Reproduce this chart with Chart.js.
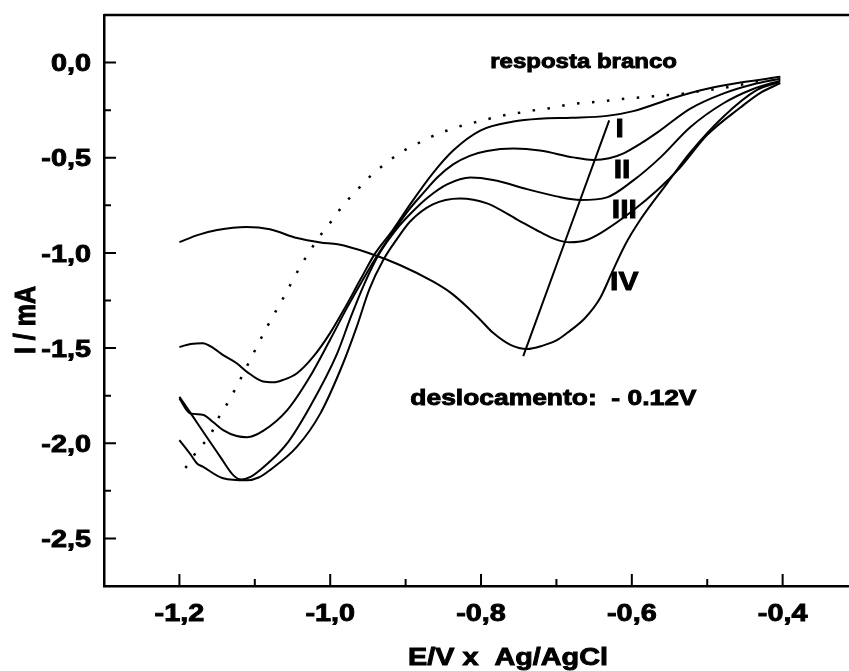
<!DOCTYPE html>
<html lang="pt">
<head>
<meta charset="UTF-8">
<title>Voltametria - deslocamento do pico</title>
<script src="https://cdn.jsdelivr.net/npm/chart.js"></script>
<style>
    html, body { margin: 0; padding: 0; background: #fff; }
    #wrap { width: 849px; height: 671px; }
</style>
</head>
<body>
<div id="wrap"><canvas id="cv" width="849" height="671"></canvas></div>
<script>
// eixos
const xMin = -1.3, xMax = -0.312;
const yMin = -2.75, yMax = 0.25;
const xTicks = [-1.2, -1.0, -0.8, -0.6, -0.4];
const xMinor = [-1.1, -0.9, -0.7, -0.5];
const yTicks = [0.0, -0.5, -1.0, -1.5, -2.0, -2.5];
const yMinor = [-0.25, -0.75, -1.25, -1.75, -2.25];

// resposta branco (pontilhada)
const eBranco = [-1.192, -1.175, -1.159, -1.149, -1.137, -1.126, -1.105, -1.084, -1.062, -1.040,
    -1.014, -0.999, -0.984, -0.966, -0.947, -0.926, -0.906, -0.885, -0.865, -0.845,
    -0.825, -0.804, -0.784, -0.764, -0.745, -0.724, -0.703, -0.684, -0.664, -0.644,
    -0.623, -0.603, -0.582, -0.561, -0.541, -0.520, -0.490, -0.460, -0.430, -0.400];
const iBranco = [-2.130, -2.032, -1.957, -1.873, -1.795, -1.716, -1.553, -1.390, -1.235, -1.074,
    -0.913, -0.836, -0.755, -0.677, -0.598, -0.528, -0.471, -0.427, -0.388, -0.357,
    -0.331, -0.310, -0.290, -0.273, -0.261, -0.247, -0.236, -0.220, -0.212, -0.205,
    -0.196, -0.187, -0.182, -0.173, -0.168, -0.156, -0.140, -0.120, -0.095, -0.070];

// curva I
const e1 = [-1.200, -1.185, -1.169, -1.155, -1.142, -1.124, -1.110, -1.089, -1.075, -1.063,
    -1.044, -1.023, -1.000, -0.980, -0.960, -0.940, -0.917, -0.894, -0.864, -0.837,
    -0.801, -0.757, -0.722, -0.680, -0.633, -0.598, -0.545, -0.500, -0.456, -0.403];
const i1 = [-1.494, -1.478, -1.474, -1.500, -1.537, -1.580, -1.626, -1.676, -1.680, -1.668,
    -1.632, -1.548, -1.420, -1.285, -1.140, -1.000, -0.880, -0.745, -0.582, -0.462,
    -0.357, -0.310, -0.295, -0.290, -0.280, -0.255, -0.186, -0.138, -0.105, -0.075];

// curva II
const e2 = [-1.200, -1.186, -1.169, -1.155, -1.142, -1.124, -1.110, -1.089, -1.057, -1.027,
    -1.000, -0.978, -0.958, -0.937, -0.915, -0.896, -0.877, -0.857, -0.837, -0.815,
    -0.792, -0.757, -0.722, -0.678, -0.651, -0.630, -0.611, -0.588, -0.566, -0.523,
    -0.479, -0.440, -0.403];
const i2 = [-1.765, -1.843, -1.850, -1.890, -1.931, -1.962, -1.968, -1.935, -1.826, -1.651,
    -1.455, -1.290, -1.150, -1.010, -0.880, -0.775, -0.687, -0.600, -0.535, -0.490,
    -0.465, -0.452, -0.462, -0.498, -0.512, -0.503, -0.477, -0.425, -0.367, -0.243,
    -0.163, -0.115, -0.085];

// curva III
const e3 = [-1.200, -1.182, -1.164, -1.146, -1.128, -1.118, -1.105, -1.089, -1.058, -1.027,
    -0.991, -0.973, -0.955, -0.935, -0.912, -0.890, -0.871, -0.845, -0.814, -0.784,
    -0.739, -0.700, -0.668, -0.633, -0.598, -0.562, -0.523, -0.479, -0.440, -0.403];
const i3 = [-1.756, -1.860, -1.966, -2.070, -2.170, -2.190, -2.175, -2.128, -2.005, -1.809,
    -1.530, -1.340, -1.165, -1.005, -0.875, -0.780, -0.710, -0.640, -0.604, -0.617,
    -0.665, -0.703, -0.722, -0.708, -0.619, -0.498, -0.341, -0.215, -0.140, -0.095];

// quarta curva com pico
const e4 = [-1.200, -1.185, -1.177, -1.169, -1.142, -1.111, -1.095, -1.080, -1.044, -1.013,
    -0.983, -0.965, -0.948, -0.930, -0.912, -0.894, -0.864, -0.828, -0.792, -0.752,
    -0.722, -0.700, -0.682, -0.662, -0.642, -0.598, -0.566, -0.536, -0.500, -0.456,
    -0.430, -0.403];
const i4 = [-1.983, -2.060, -2.105, -2.123, -2.184, -2.195, -2.180, -2.141, -2.018, -1.843,
    -1.581, -1.390, -1.190, -1.040, -0.930, -0.835, -0.745, -0.714, -0.740, -0.825,
    -0.890, -0.930, -0.944, -0.935, -0.897, -0.776, -0.670, -0.551, -0.380, -0.236,
    -0.160, -0.108];

// curva IV
const e5 = [-1.200, -1.175, -1.150, -1.111, -1.080, -1.044, -1.013, -0.990, -0.951, -0.907,
    -0.864, -0.840, -0.818, -0.800, -0.784, -0.761, -0.739, -0.718, -0.700, -0.686,
    -0.662, -0.642, -0.626, -0.609, -0.589, -0.553, -0.523, -0.479, -0.434, -0.404];
const i5 = [-0.943, -0.905, -0.880, -0.864, -0.876, -0.922, -0.945, -0.955, -0.998, -1.065,
    -1.150, -1.210, -1.285, -1.355, -1.420, -1.483, -1.505, -1.487, -1.460, -1.421,
    -1.342, -1.237, -1.100, -0.958, -0.827, -0.633, -0.475, -0.286, -0.144, -0.102];

// reta do deslocamento
const eDesl = [-0.744, -0.630];
const iDesl = [-1.542, -0.304];

// textos
const romanos = ['I', 'II', 'III', 'IV'];
const romanosE = [-0.616, -0.613, -0.610, -0.610];
const romanosI = [-0.391, -0.606, -0.817, -1.195];
const notas = ['resposta branco', 'deslocamento:  - 0.12V'];
const notasE = [-0.664, -0.704];
const notasI = [-0.028, -1.799];

const FONT = '"Liberation Sans", Arial, sans-serif';
const SX = 1.2; // a figura original esta esticada na horizontal

function pts(xs, ys) {
    return xs.map((v, k) => ({ x: v, y: ys[k] }));
}
function fmt(v) {
    return v.toFixed(1).replace('.', ',');
}
function texto(ctx, t, x, y, size, align) {
    ctx.save();
    ctx.font = 'bold ' + size + 'px ' + FONT;
    ctx.textAlign = align;
    ctx.textBaseline = 'alphabetic';
    ctx.lineWidth = 0.9;
    ctx.translate(x, y);
    ctx.scale(SX, 1);
    ctx.fillText(t, 0, 0);
    ctx.strokeText(t, 0, 0);
    ctx.restore();
}

const moldura = {
    id: 'moldura',
    afterDraw(chart) {
        const { ctx, chartArea: a, scales: { x, y } } = chart;
        ctx.save();
        ctx.strokeStyle = '#000';
        ctx.fillStyle = '#000';
        // linha de cima
        ctx.lineWidth = 2.5;
        ctx.beginPath();
        ctx.moveTo(a.left, a.top);
        ctx.lineTo(a.right, a.top);
        ctx.stroke();
        // marcas para dentro
        ctx.lineWidth = 2;
        ctx.beginPath();
        xTicks.forEach(v => { const p = x.getPixelForValue(v); ctx.moveTo(p, a.bottom); ctx.lineTo(p, a.bottom - 12); });
        xMinor.forEach(v => { const p = x.getPixelForValue(v); ctx.moveTo(p, a.bottom); ctx.lineTo(p, a.bottom - 7); });
        yTicks.forEach(v => { const p = y.getPixelForValue(v); ctx.moveTo(a.left, p); ctx.lineTo(a.left + 12, p); });
        yMinor.forEach(v => { const p = y.getPixelForValue(v); ctx.moveTo(a.left, p); ctx.lineTo(a.left + 7, p); });
        ctx.stroke();
        // rotulos dos eixos
        xTicks.forEach(v => texto(ctx, fmt(v), x.getPixelForValue(v), a.bottom + 35, 24, 'center'));
        yTicks.forEach(v => texto(ctx, fmt(v), a.left - 13, y.getPixelForValue(v) + 8.6, 24, 'right'));
        texto(ctx, 'E/V x  Ag/AgCl', 508, 665, 24, 'center');
        ctx.save();
        ctx.translate(35, 320);
        ctx.rotate(-Math.PI / 2);
        ctx.scale(1, SX);
        ctx.font = 'bold 25px ' + FONT;
        ctx.textAlign = 'center';
        ctx.textBaseline = 'alphabetic';
        ctx.lineWidth = 0.9;
        ctx.fillText('I / mA', 0, 0);
        ctx.strokeText('I / mA', 0, 0);
        ctx.restore();
        // anotacoes
        romanos.forEach((t, k) => texto(ctx, t, x.getPixelForValue(romanosE[k]), y.getPixelForValue(romanosI[k]), 25, 'center'));
        notas.forEach((t, k) => texto(ctx, t, x.getPixelForValue(notasE[k]), y.getPixelForValue(notasI[k]), k === 0 ? 20 : 22, 'center'));
        ctx.restore();
    }
};

const linha = { borderColor: '#000', borderWidth: 2, pointRadius: 0, fill: false };

new Chart(document.getElementById('cv'), {
    type: 'line',
    data: {
        datasets: [
            { label: 'resposta branco', data: pts(eBranco, iBranco), borderColor: '#000', borderWidth: 2.5,
              borderDash: [2.5, 12.5], pointRadius: 0, fill: false },
            Object.assign({ label: 'I', data: pts(e1, i1) }, linha),
            Object.assign({ label: 'II', data: pts(e2, i2) }, linha),
            Object.assign({ label: 'III', data: pts(e3, i3) }, linha),
            Object.assign({ label: 'curva 4', data: pts(e4, i4) }, linha),
            Object.assign({ label: 'IV', data: pts(e5, i5) }, linha),
            Object.assign({ label: 'deslocamento', data: pts(eDesl, iDesl) }, linha)
        ]
    },
    options: {
        responsive: false,
        animation: false,
        layout: { padding: { top: 15, left: 0, right: 0, bottom: 0 } },
        elements: { line: { cubicInterpolationMode: 'monotone' } },
        plugins: { legend: { display: false }, tooltip: { enabled: false } },
        scales: {
            x: {
                type: 'linear', min: xMin, max: xMax,
                grid: { display: false, drawTicks: false },
                border: { display: true, color: '#000', width: 2.5 },
                ticks: { display: false },
                afterBuildTicks: s => { s.ticks = xTicks.map(v => ({ value: v })); },
                afterFit: s => { s.height = 85; }
            },
            y: {
                type: 'linear', min: yMin, max: yMax,
                grid: { display: false, drawTicks: false },
                border: { display: true, color: '#000', width: 2.5 },
                ticks: { display: false },
                afterBuildTicks: s => { s.ticks = yTicks.map(v => ({ value: v })); },
                afterFit: s => { s.width = 104; }
            }
        }
    },
    plugins: [moldura]
});
</script>
</body>
</html>
